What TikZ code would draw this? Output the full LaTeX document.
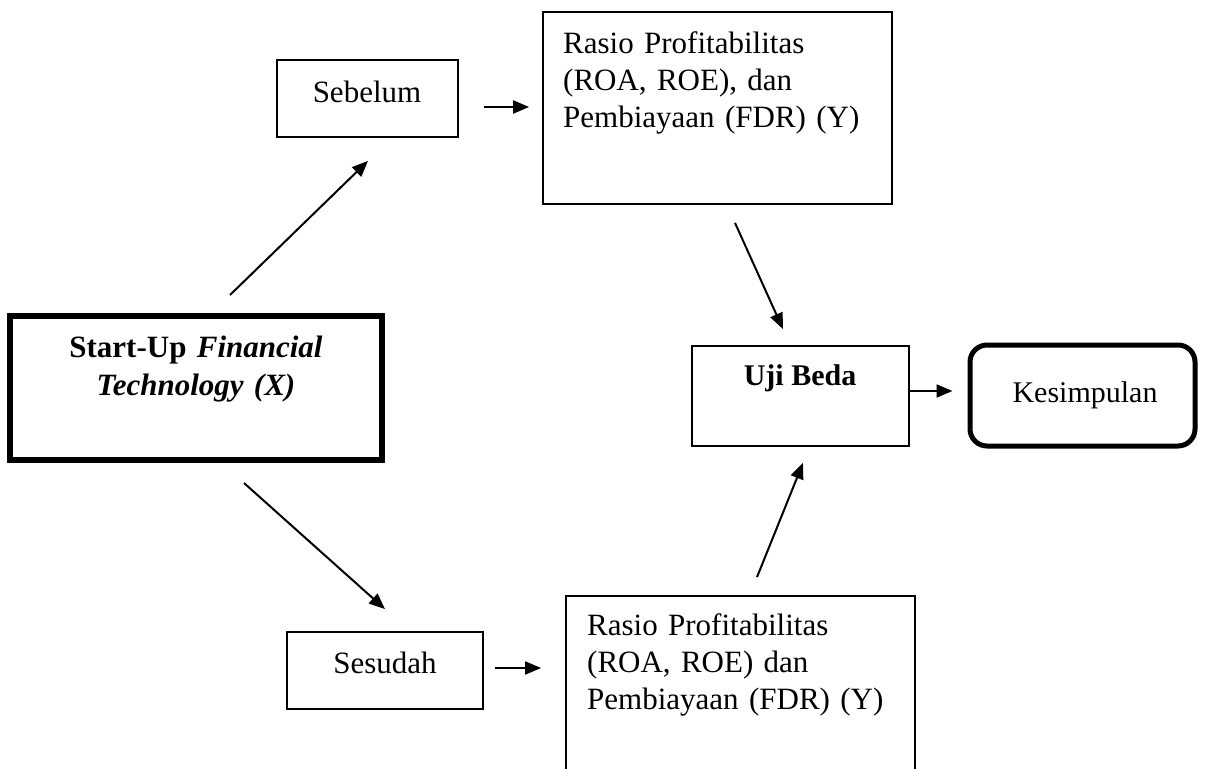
\documentclass[tikz,border=0pt]{standalone}
\usepackage{fontspec}
\setmainfont{Liberation Serif}
\usetikzlibrary{arrows.meta,calc}
\begin{document}
\begin{tikzpicture}[x=1pt,y=-1pt,
  box/.style={draw,line width=1.8pt,inner sep=0pt},
  conn/.style={line width=2pt,-{Triangle[length=16pt,width=13pt]}},
  lbl/.style={font=\fontsize{31}{37}\selectfont,inner sep=0pt},
  para/.style={font=\fontsize{31}{37}\selectfont,inner sep=0pt,align=left,text width=330pt,anchor=base west}]
\useasboundingbox (0,0) rectangle (1217,768);
% boxes
\node[box,minimum width=181pt,minimum height=77pt] (sebelum) at (367.5,98.5) {};
\node[box,minimum width=349pt,minimum height=192pt] (rasio1) at (717.5,108) {};
\node[box,line width=6pt,minimum width=372pt,minimum height=144pt] (startup) at (196,388) {};
\node[box,minimum width=217pt,minimum height=100pt] (uji) at (800.5,396) {};
\node[box,line width=5pt,rounded corners=17pt,minimum width=225pt,minimum height=101pt] (kes) at (1082.5,395.5) {};
\node[box,minimum width=196pt,minimum height=77pt] (sesudah) at (385,670.5) {};
\node[box,minimum width=349pt,minimum height=204pt] (rasio2) at (740.5,698) {};
% texts
\node[lbl,anchor=base] (sebelumt) at (367,102) {Sebelum};
\node[lbl,anchor=base] (sesudaht) at (385,673) {Sesudah};
\node[lbl,anchor=base,font=\fontsize{30}{36}\selectfont\bfseries] (ujit) at (800,385) {Uji Beda};
\node[lbl,anchor=base,font=\fontsize{30}{36}\selectfont] (kest) at (1085,402) {Kesimpulan};
\node[lbl,anchor=base,align=center,text width=360pt,font=\fontsize{31}{38}\selectfont\bfseries] (startupt) at (196,357) {Start-Up \textit{Financial}\\\textit{Technology (X)}};
\node[para] (rasio1t) at (563,53) {Rasio Profitabilitas\\(ROA, ROE), dan\\Pembiayaan (FDR) (Y)};
\node[para] (rasio2t) at (587,635) {Rasio Profitabilitas\\(ROA, ROE) dan\\Pembiayaan (FDR) (Y)};
% connectors
\draw[conn] ($(startup.north)+(34,-18)$) -- ($(sebelum.south)+(0.5,23)$);
\draw[conn] ($(startup.south)+(48,20)$) -- ($(sesudah.north)+(0,-22)$);
\draw[conn] ($(sebelum.east)+(25,8.5)$) -- ($(rasio1.west)+(-13,-1)$);
\draw[conn] ($(sesudah.east)+(11,-2.5)$) -- ($(rasio2.west)+(-24,-30)$);
\draw[conn] ($(rasio1.south)+(17.5,18)$) -- ($(uji.north)+(-17.5,-16)$);
\draw[conn] ($(rasio2.north)+(16.5,-18)$) -- ($(uji.south)+(2.5,16)$);
\draw[conn] ($(uji.east)+(0,-5)$) -- ($(kes.west)+(-15,-4.5)$);
\end{tikzpicture}
\end{document}
